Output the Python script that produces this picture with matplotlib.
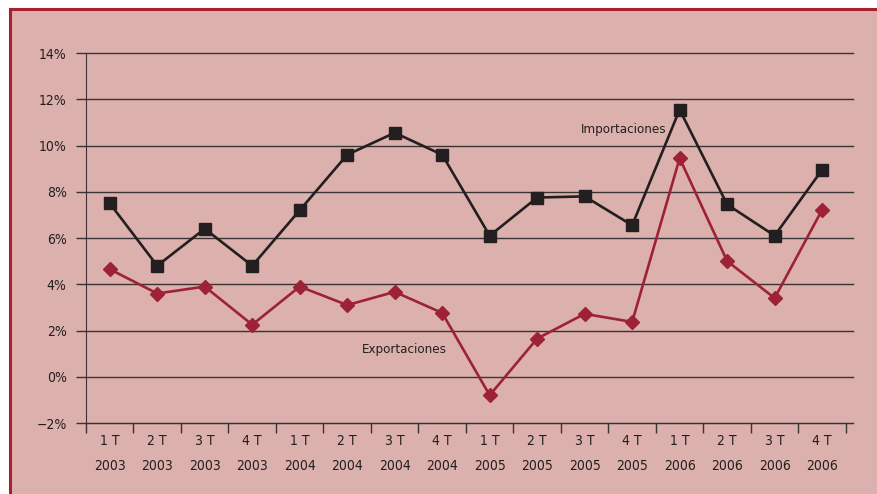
import numpy as np
import matplotlib.pyplot as plt
from matplotlib.patches import Rectangle

plt.rcParams['font.family'] = ['DejaVu Sans']
plt.rcParams['font.stretch'] = 'condensed'

# trimestres
quarters = ["1 T", "2 T", "3 T", "4 T"] * 4
years = ["2003"] * 4 + ["2004"] * 4 + ["2005"] * 4 + ["2006"] * 4
labels = [q + "\n" + y for q, y in zip(quarters, years)]

importaciones = [7.5, 4.8, 6.4, 4.8, 7.2, 9.6, 10.55, 9.6,
                 6.1, 7.75, 7.8, 6.55, 11.55, 7.45, 6.1, 8.95]
exportaciones = [4.65, 3.6, 3.9, 2.25, 3.9, 3.1, 3.67, 2.76,
                 -0.8, 1.65, 2.72, 2.37, 9.45, 5.0, 3.4, 7.22]

yticks = [-2, 0, 2, 4, 6, 8, 10, 12, 14]
ytick_labels = ["\u22122%", "0%", "2%", "4%", "6%", "8%", "10%", "12%", "14%"]

bg = "#dcb0ac"
red = "#9e2236"
dark = "#231f20"
grid = "#3a3334"

fig = plt.figure(figsize=(8.78, 4.94), dpi=100, facecolor="white")
frame = Rectangle((10 / 878, -0.1), 1.1, 1 - 9 / 494 + 0.1, transform=fig.transFigure,
                  facecolor=bg, edgecolor="#a8202f", linewidth=2.2, zorder=-10)
fig.patches.append(frame)

ax = fig.add_axes([86 / 878, 1 - 423 / 494, (853 - 86) / 878, (423 - 53) / 494])
ax.set_facecolor("none")

x = np.arange(len(labels))
ax.plot(x, importaciones, color=dark, lw=1.9, marker="s", ms=8.5, zorder=3)
ax.plot(x, exportaciones, color=red, lw=1.9, marker="D", ms=7, zorder=3)

ax.set_ylim(-2, 14)
ax.set_xlim(-0.5, 15.65)
ax.set_yticks(yticks)
ax.set_yticklabels(ytick_labels)
for v in yticks:
    ax.axhline(v, color=grid, lw=1, zorder=1, clip_on=False)
ax.tick_params(axis="y", length=7.5, width=1, color=grid, pad=6.5, labelsize=10, labelcolor=dark)

ax.set_xticks(np.arange(len(labels) + 1) - 0.5)
ax.set_xticklabels([])
ax.set_xticks(x, minor=True)
ax.set_xticklabels(labels, minor=True)
ax.tick_params(axis="x", which="major", length=7, width=1, color=grid, direction="out")
ax.tick_params(axis="x", which="minor", length=0, pad=8, labelsize=10, labelcolor=dark)
for t in ax.get_xticklabels(minor=True):
    t.set_linespacing(1.95)

for s in ["top", "right"]:
    ax.spines[s].set_visible(False)
ax.spines["left"].set_color(grid)
ax.spines["bottom"].set_color(grid)

ax.text(9.92, 10.68, "Importaciones", fontsize=9.5, color=dark, va="center")
ax.text(5.31, 1.16, "Exportaciones", fontsize=9.5, color=dark, va="center")

fig.savefig("out.png", dpi=100, facecolor="white")
